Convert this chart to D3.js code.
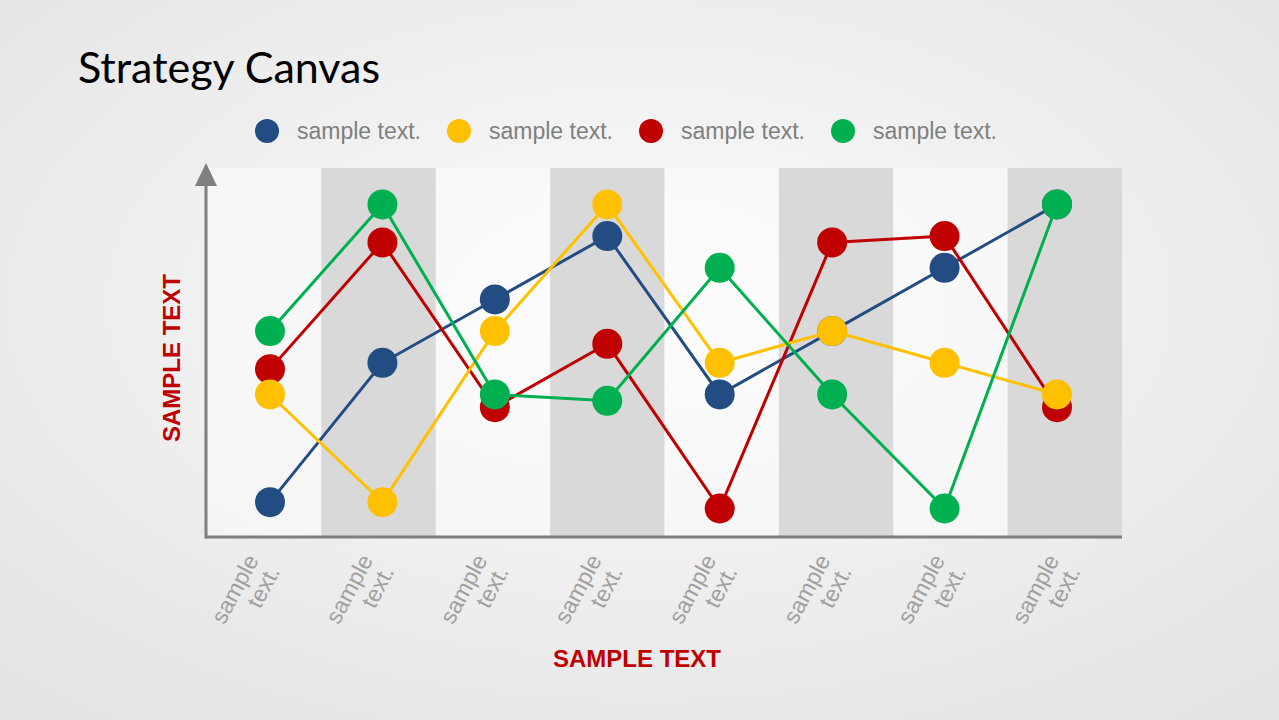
<!DOCTYPE html>
<html>
<head>
<meta charset="utf-8">
<script src="https://cdn.jsdelivr.net/npm/d3@7"></script>
<style>
    html, body { margin: 0; padding: 0; overflow: hidden; }
    #chart { width: 1279px; height: 720px; }
</style>
</head>
<body>
<div id="chart"></div>
<script>
// chart data
const title = "Strategy Canvas";
const categories = ["sample text.", "sample text.", "sample text.", "sample text.",
                    "sample text.", "sample text.", "sample text.", "sample text."];
const seriesNames = ["sample text.", "sample text.", "sample text.", "sample text."];
const seriesColors = ["#234C83", "#FFC000", "#C00000", "#00B050"];
const blueValues = [0.6, 5, 7, 9, 4, 6, 8, 10];
const yellowValues = [4, 0.6, 6, 10, 5, 6, 5, 4];
const redValues = [4.8, 8.8, 3.6, 5.6, 0.4, 8.8, 9, 3.6];
const greenValues = [6, 10, 4, 3.8, 8, 4, 0.4, 10];
const yTitle = "SAMPLE TEXT";
const xTitle = "SAMPLE TEXT";

function createStrategyCanvas() {
    const W = 1279, H = 720;
    const plot = { left: 207, right: 1122, top: 168, bottom: 537 };

    const svg = d3.select("#chart").append("svg")
        .attr("width", W)
        .attr("height", H);

    // background gradient
    const defs = svg.append("defs");
    const bg = defs.append("radialGradient")
        .attr("id", "bg")
        .attr("cx", "50%").attr("cy", "42%").attr("r", "72%");
    bg.append("stop").attr("offset", "0%").attr("stop-color", "#fbfbfb");
    bg.append("stop").attr("offset", "100%").attr("stop-color", "#e4e4e4");

    svg.append("rect")
        .attr("width", W)
        .attr("height", H)
        .style("fill", "url(#bg)");

    // title
    svg.append("text")
        .attr("x", 78)
        .attr("y", 83)
        .attr("textLength", 302)
        .attr("lengthAdjust", "spacingAndGlyphs")
        .style("font-family", "Lato, 'Open Sans', sans-serif")
        .style("font-size", "43px")
        .style("fill", "#000")
        .text(title);

    // legend: circle + text, next item placed after the measured text
    const series = [blueValues, yellowValues, redValues, greenValues];
    const legend = svg.append("g")
        .attr("transform", "translate(0, 131)");

    let lx = 267;
    seriesNames.forEach((name, i) => {
        legend.append("circle")
            .attr("cx", lx)
            .attr("r", 12)
            .style("fill", seriesColors[i]);

        const t = legend.append("text")
            .attr("x", lx + 30)
            .attr("y", 8)
            .style("font-family", "'Liberation Sans', Arial, sans-serif")
            .style("font-size", "23px")
            .style("fill", "#7f7f7f")
            .text(name);

        lx += 30 + t.node().getComputedTextLength() + 38;
    });

    // scales
    const idx = d3.range(categories.length);
    const xBand = d3.scaleBand()
        .domain(idx)
        .range([plot.left, plot.right])
        .paddingInner(0);

    const xPoint = d3.scalePoint()
        .domain(idx)
        .range([270, 1057]);

    const yScale = d3.scaleLinear()
        .domain([-0.5, 11.15])
        .range([plot.bottom, plot.top]);

    // alternating column bands
    svg.append("g")
        .selectAll("rect")
        .data(idx)
        .enter().append("rect")
        .attr("x", d => xBand(d))
        .attr("y", plot.top)
        .attr("width", xBand.bandwidth())
        .attr("height", plot.bottom - plot.top)
        .style("fill", d => d % 2 ? "#d9d9d9" : "#ffffff")
        .style("fill-opacity", d => d % 2 ? 1 : 0.45);

    // axes
    const axisColor = "#7f7f7f";
    svg.append("line")
        .attr("x1", 206).attr("x2", 206)
        .attr("y1", plot.bottom + 1.5).attr("y2", 184)
        .style("stroke", axisColor)
        .style("stroke-width", 3);

    svg.append("path")
        .attr("d", "M206,163 L217,186 L195,186 Z")
        .style("fill", axisColor);

    svg.append("line")
        .attr("x1", 206).attr("x2", plot.right)
        .attr("y1", plot.bottom).attr("y2", plot.bottom)
        .style("stroke", axisColor)
        .style("stroke-width", 3);

    // category labels, rotated, two lines
    const labels = svg.append("g")
        .selectAll("text")
        .data(categories)
        .enter().append("text")
        .attr("transform", (d, i) => `translate(${xBand(i) + xBand.bandwidth() / 2 - 5}, 560) rotate(-62)`)
        .attr("text-anchor", "end")
        .style("font-family", "'Liberation Sans', Arial, sans-serif")
        .style("font-size", "23px")
        .style("fill", "#a0a0a0");

    labels.selectAll("tspan")
        .data(d => d.split(" "))
        .enter().append("tspan")
        .attr("x", 0)
        .attr("dy", (d, i) => i === 0 ? "0em" : "1.05em")
        .text(d => d);

    // axis titles
    svg.append("text")
        .attr("transform", "translate(180, 358) rotate(-90)")
        .attr("text-anchor", "middle")
        .style("font-family", "'Liberation Sans', Arial, sans-serif")
        .style("font-weight", "bold")
        .style("font-size", "24px")
        .style("fill", "#C00000")
        .text(yTitle);

    svg.append("text")
        .attr("x", 637)
        .attr("y", 667)
        .attr("text-anchor", "middle")
        .style("font-family", "'Liberation Sans', Arial, sans-serif")
        .style("font-weight", "bold")
        .style("font-size", "24px")
        .style("fill", "#C00000")
        .text(xTitle);

    // series: blue, red, yellow, green drawn in that order
    const drawOrder = [0, 2, 1, 3];
    const line = d3.line()
        .x((d, i) => xPoint(i))
        .y(d => yScale(d));

    drawOrder.forEach(s => {
        const g = svg.append("g");
        g.append("path")
            .datum(series[s])
            .attr("d", line)
            .style("fill", "none")
            .style("stroke", seriesColors[s])
            .style("stroke-width", 3);

        g.selectAll("circle")
            .data(series[s])
            .enter().append("circle")
            .attr("cx", (d, i) => xPoint(i))
            .attr("cy", d => yScale(d))
            .attr("r", 15)
            .style("fill", seriesColors[s]);
    });
}

createStrategyCanvas();
</script>
</body>
</html>
